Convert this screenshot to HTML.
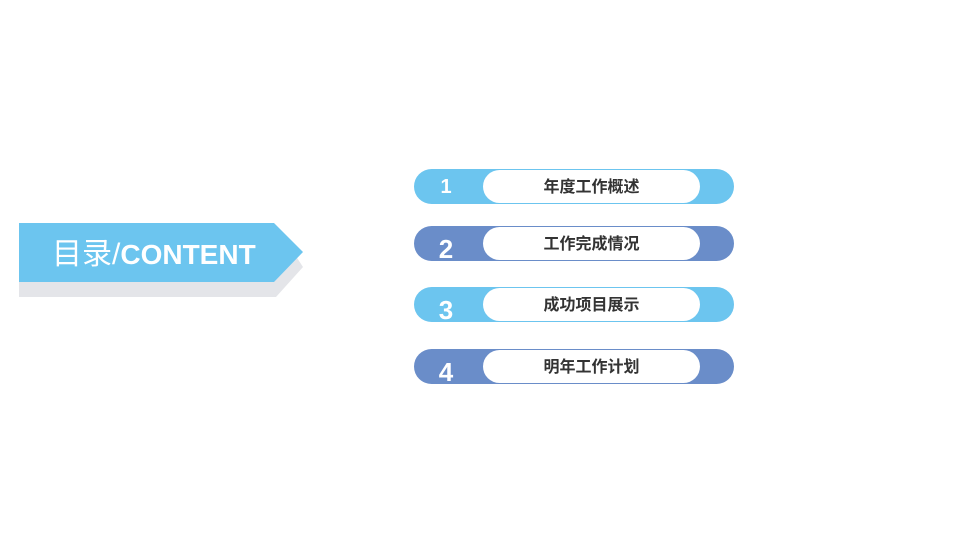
<!DOCTYPE html>
<html><head><meta charset="utf-8"><style>
body{margin:0;width:960px;height:540px;background:#fff;overflow:hidden;position:relative;font-family:"Liberation Sans","Noto Sans CJK SC",sans-serif}
.bar{position:absolute;left:414px;width:320px;height:35px;border-radius:18px}
.pill{position:absolute;left:69px;width:217px;top:1px;height:33px;border-radius:17px;background:#fff;text-align:center;line-height:35px;font-size:16px;font-weight:bold;color:#333}
.num{position:absolute;left:0;width:64px;text-align:center;color:#fff;font-weight:bold;font-family:"Liberation Sans",sans-serif}
.l{background:#6cc5ef}.d{background:#6a8dc9}
</style></head><body>
<svg width="960" height="540" style="position:absolute;left:0;top:0">
<polygon points="19,238 284,238 303,267 276,297 19,297" fill="#e4e5e9"/>
<polygon points="19,223 274,223 303,252 274,282 19,282" fill="#6cc5ef"/>
<text x="52" y="264" fill="#fff" font-size="30" font-family="Liberation Sans,Noto Sans CJK SC,sans-serif">目录/<tspan font-weight="bold" font-size="28">CONTENT</tspan></text>
</svg>
<div class="bar l" style="top:169px"><div class="num" style="font-size:20px;top:7px">1</div><div class="pill">年度工作概述</div></div>
<div class="bar d" style="top:226px"><div class="num" style="font-size:26px;top:8px">2</div><div class="pill">工作完成情况</div></div>
<div class="bar l" style="top:287px"><div class="num" style="font-size:26px;top:8px">3</div><div class="pill">成功项目展示</div></div>
<div class="bar d" style="top:349px"><div class="num" style="font-size:26px;top:8px">4</div><div class="pill">明年工作计划</div></div>
</body></html>
